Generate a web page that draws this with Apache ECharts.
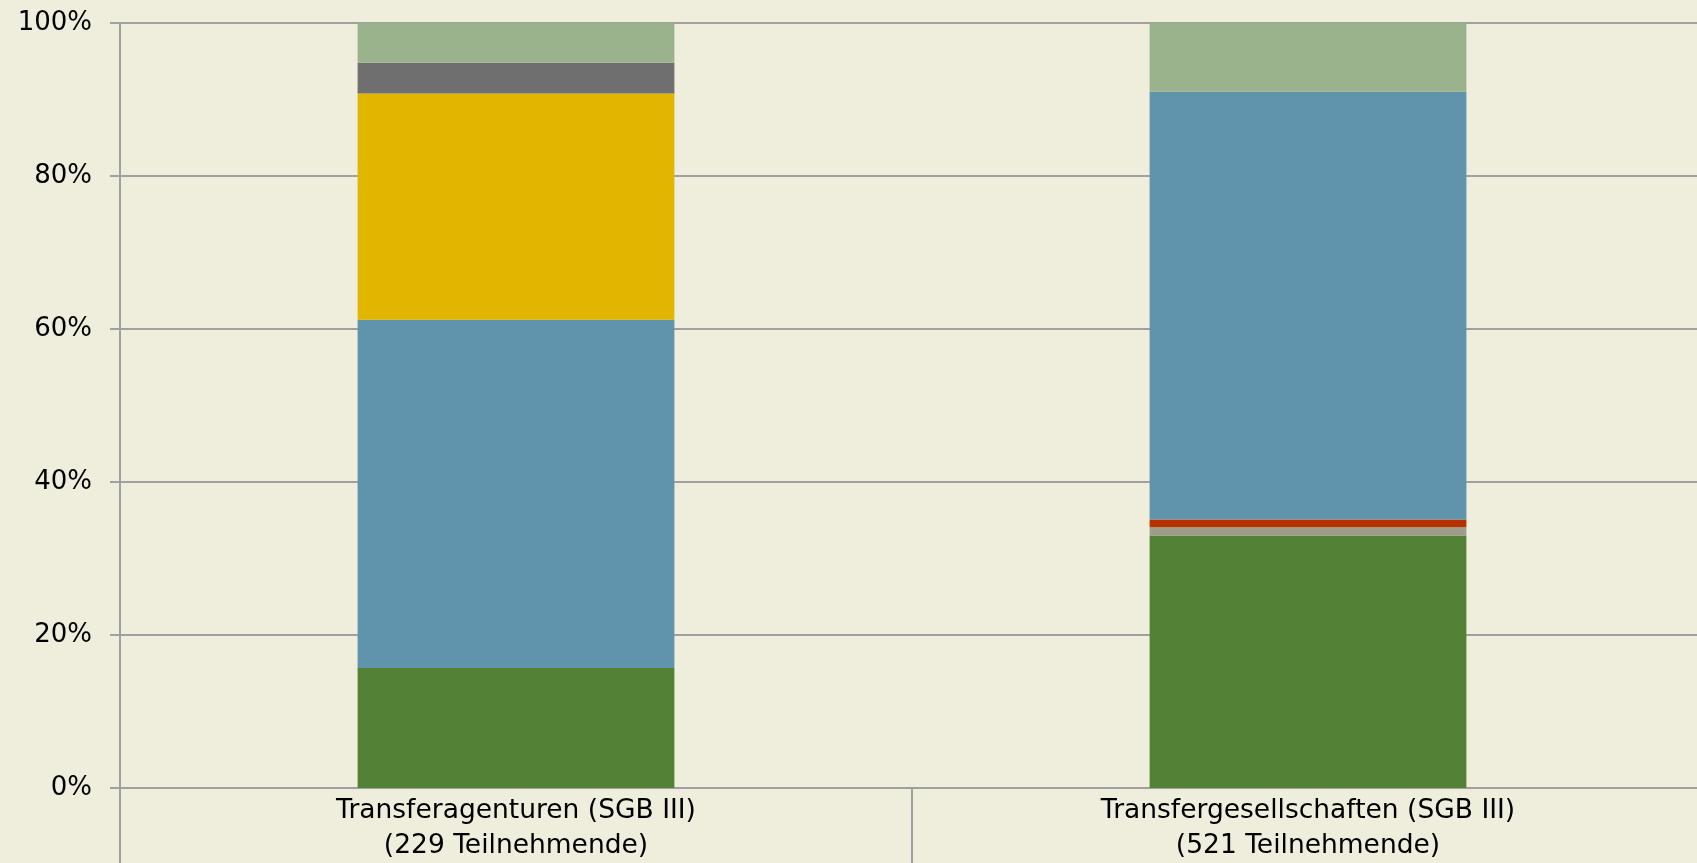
<!DOCTYPE html>
<html>
<head>
<meta charset="utf-8">
<style>
  html, body { margin: 0; padding: 0; background: #efeedc; }
  #chart { width: 1697px; height: 863px; }
</style>
<script src="https://cdn.jsdelivr.net/npm/echarts@6/dist/echarts.min.js"></script>
</head>
<body>
<div id="chart"></div>
<script>
// Kategorien
var categories = ['Transferagenturen (SGB III)\n(229 Teilnehmende)', 'Transfergesellschaften (SGB III)\n(521 Teilnehmende)'];

// Anteile in %, von unten nach oben gestapelt
var gruen = [15.7, 33.0];
var grauHell = [0, 1.1];
var rot = [0, 1.0];
var blau = [45.5, 55.9];
var gelb = [29.6, 0];
var grauDunkel = [4.0, 0];
var gruenHell = [5.2, 9.0];

var yTicks = [0, 20, 40, 60, 80, 100];

var myChart = echarts.init(document.getElementById('chart'));

function seg(data, color) {
    return {
        type: 'bar',
        stack: 'a',
        data: data,
        barWidth: '40%',
        itemStyle: { color: color },
        emphasis: { disabled: true }
    };
}

var option = {
    backgroundColor: '#efeedc',
    animation: false,
    grid: { left: 120, top: 23, bottom: 75, width: 1584, outerBoundsMode: 'none' },
    xAxis: {
        type: 'category',
        data: categories,
        axisLine: { lineStyle: { color: '#a0a0a0', width: 2 } },
        axisTick: { show: true, length: 75, interval: 0, lineStyle: { color: '#a0a0a0', width: 2 } },
        axisLabel: {
            color: '#000',
            fontFamily: 'DejaVu Sans',
            fontSize: 26.5,
            lineHeight: 35,
            margin: 6,
            interval: 0
        }
    },
    yAxis: {
        type: 'value',
        min: yTicks[0],
        max: yTicks[yTicks.length - 1],
        interval: 20,
        axisLine: { show: true, lineStyle: { color: '#a0a0a0', width: 2 } },
        axisTick: { show: true, length: 10, lineStyle: { color: '#a0a0a0', width: 2 } },
        splitLine: { lineStyle: { color: '#a0a0a0', width: 2 } },
        axisLabel: {
            color: '#000',
            fontFamily: 'DejaVu Sans',
            fontSize: 26,
            margin: 28,
            formatter: '{value}%'
        }
    },
    series: [
        seg(gruen, '#538135'),
        seg(grauHell, '#a09c8c'),
        seg(rot, '#b83200'),
        seg(blau, '#6094ac'),
        seg(gelb, '#e1b500'),
        seg(grauDunkel, '#6f6f6f'),
        seg(gruenHell, '#9ab38c')
    ]
};

myChart.setOption(option);
window.addEventListener('resize', function () {
    myChart.resize();
});
</script>
</body>
</html>
